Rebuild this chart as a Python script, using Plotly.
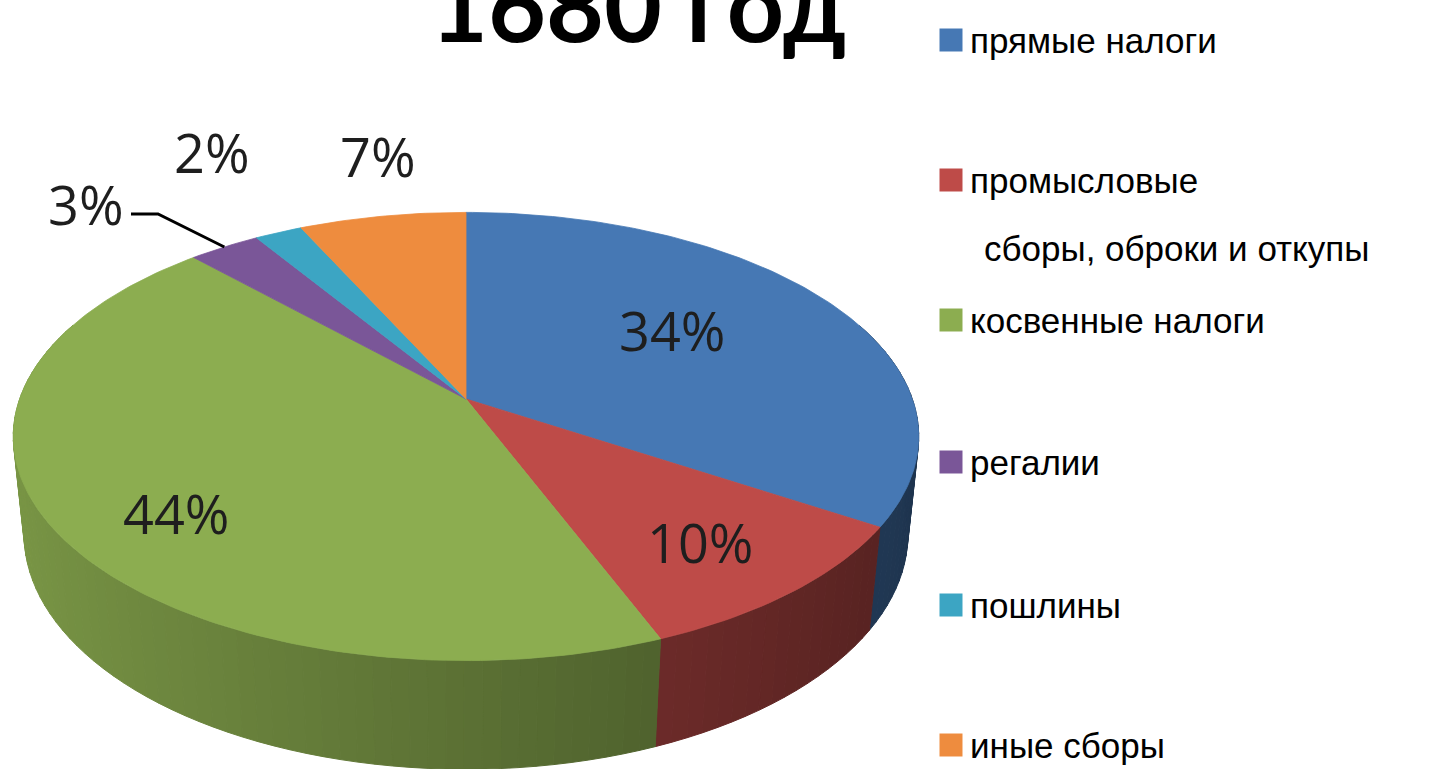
import math
import plotly.graph_objects as go

# ---------------- data ----------------
categories = ["прямые налоги", "промысловые сборы, оброки и откупы", "косвенные налоги",
              "регалии", "пошлины", "иные сборы"]
legend_lines = [["прямые налоги"], ["промысловые", "сборы, оброки и откупы"], ["косвенные налоги"],
                ["регалии"], ["пошлины"], ["иные сборы"]]
values = [34, 10, 44, 3, 2, 7]
title_text = "1680 год"

# ---------------- style ----------------
colors = [(70, 120, 180), (190, 75, 72), (140, 173, 80), (122, 86, 152), (60, 165, 195), (238, 140, 62)]
W, H = 1437, 769
CX, CY = 466, 399          # pixel of pie apex
F = 2330.0                  # focal scale
PHI = math.asin(0.488)      # tilt
L = 5.22                    # camera distance
DEPTH = 0.255               # thickness of pie
label_font = "Open Sans"
legend_font = "Liberation Sans Narrow, Liberation Sans, Arial"


def proj(u, v, z=0.0):
    s, c = math.sin(PHI), math.cos(PHI)
    d = L + v * c - z * s
    x = u / d * F
    y = (v * s + z * c) / d * F
    return CX + x, CY - y


def rgb(c, f=1.0):
    return "rgb(%d,%d,%d)" % tuple(max(0, min(255, int(round(ch * f)))) for ch in c)


total = float(sum(values))
bounds = []
acc = 0.0
for v in values:
    a0 = acc / total * 2 * math.pi
    acc += v
    a1 = acc / total * 2 * math.pi
    bounds.append((a0, a1))

fig = go.Figure()

# ---- side walls (rim), split into shaded segments, back to front ----
segs = []
step = math.radians(2.0)
for i, (a0, a1) in enumerate(bounds):
    n = max(1, int(math.ceil((a1 - a0) / step)))
    for k in range(n):
        s0 = a0 + (a1 - a0) * k / n
        s1 = a0 + (a1 - a0) * (k + 1) / n
        sm = 0.5 * (s0 + s1)
        um, vm = math.sin(sm), math.cos(sm)
        if vm > 0.35:
            continue
        segs.append((vm, i, s0, s1, um))
segs.sort(key=lambda t: -t[0])
for vm, i, s0, s1, um in segs:
    pts_top = [proj(math.sin(a), math.cos(a), 0) for a in (s0, s1)]
    pts_bot = [proj(math.sin(a), math.cos(a), -DEPTH) for a in (s1, s0)]
    pts = pts_top + pts_bot + [pts_top[0]]
    col = rgb(colors[i], 0.65 - 0.22 * um)
    fig.add_trace(go.Scatter(x=[p[0] for p in pts], y=[p[1] for p in pts], mode="lines",
                             fill="toself", fillcolor=col, line=dict(color=col, width=1),
                             hoverinfo="skip", showlegend=False))

# ---- top faces ----
for i, (a0, a1) in enumerate(bounds):
    n = max(4, int((a1 - a0) / math.radians(1)))
    pts = [proj(0, 0)]
    for k in range(n + 1):
        a = a0 + (a1 - a0) * k / n
        pts.append(proj(math.sin(a), math.cos(a)))
    pts.append(proj(0, 0))
    fig.add_trace(go.Scatter(x=[p[0] for p in pts], y=[p[1] for p in pts], mode="lines",
                             fill="toself", fillcolor=rgb(colors[i]),
                             line=dict(color=rgb(colors[i]), width=0.8),
                             name=categories[i], hoverinfo="name", showlegend=False))

# ---- data labels ----
label_r = [0.55, 0.76, 0.72, None, 1.5, 1.36]
label_shift = [(0, -14), (-6, 2), (0, 24), (0, 0), (10, -12), (20, -6)]
anns = []
for i, (a0, a1) in enumerate(bounds):
    am = 0.5 * (a0 + a1)
    txt = "%d%%" % round(values[i] / total * 100)
    if label_r[i] is None:
        ex, ey = proj(math.sin(am), math.cos(am))
        lx, ly = 86, 204
        fig.add_trace(go.Scatter(x=[lx + 45, lx + 72, ex], y=[ly + 10, ly + 10, ey], mode="lines",
                                 line=dict(color="black", width=3), hoverinfo="skip", showlegend=False))
    else:
        r = label_r[i]
        lx, ly = proj(r * math.sin(am), r * math.cos(am))
        lx += label_shift[i][0]
        ly += label_shift[i][1]
    anns.append(dict(x=lx, y=ly, xref="x", yref="y", text=txt, showarrow=False,
                     font=dict(family=label_font, size=54, color="#1e1e1e"),
                     xanchor="center", yanchor="middle"))

# ---- legend (drawn manually) ----
leg_y = [40, 180, 320, 462, 605, 745]
fig.add_trace(go.Scatter(x=[951] * len(values), y=leg_y, mode="markers",
                         marker=dict(symbol="square", size=23, color=[rgb(c) for c in colors]),
                         hoverinfo="skip", showlegend=False))
for i, lines in enumerate(legend_lines):
    for j, line in enumerate(lines):
        anns.append(dict(x=968 if j == 0 else 982, y=leg_y[i] + 68 * j, xref="x", yref="y",
                         text=line, showarrow=False, xanchor="left", yanchor="middle",
                         font=dict(family=legend_font, size=35, color="black")))

# ---- title ----
anns.append(dict(x=638, y=65, xref="x", yref="y", text="<b>%s</b>" % title_text, showarrow=False,
                 xanchor="center", yanchor="bottom",
                 font=dict(family="Lato", size=100, color="black")))

fig.update_layout(
    width=W, height=H, margin=dict(l=0, r=0, t=0, b=0),
    paper_bgcolor="white", plot_bgcolor="white",
    xaxis=dict(range=[0, W], visible=False, fixedrange=True),
    yaxis=dict(range=[H, 0], visible=False, fixedrange=True),
    annotations=anns, showlegend=False,
)
fig.write_html("out.html", config={"displayModeBar": False},
               post_script="document.body.style.margin='0px';document.body.style.overflow='hidden';")
